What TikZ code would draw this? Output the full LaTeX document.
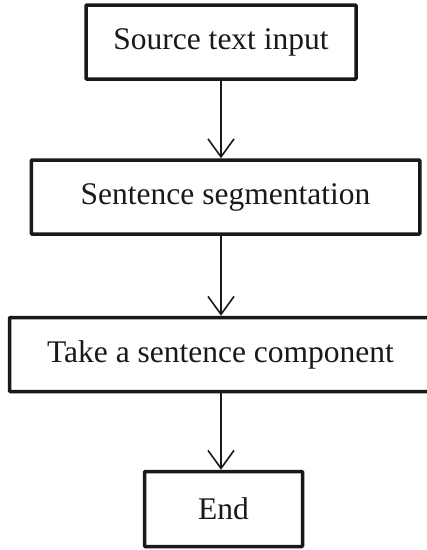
\documentclass[tikz,border=0pt]{standalone}
\usepackage{fontspec}
\setmainfont{Liberation Serif}
\usetikzlibrary{arrows.meta}
\tikzset{
  flowbox/.style={draw=black!90, line width=3.5pt, rectangle, rounded corners=0.8pt, inner sep=0pt,
    minimum height=74pt, font=\fontsize{31.5}{36}\selectfont, text=black!90},
  flowarrow/.style={draw=black!90, line width=1.6pt,
    -{Straight Barb[length=18pt,width=26pt,line width=1.6pt]}}
}
\begin{document}
\begin{tikzpicture}[x=1pt,y=-1pt]
\clip (0,0) rectangle (427,550);
\fill[white] (0,0) rectangle (427,550);
\node[flowbox, minimum width=270pt] (b1) at (221,42) {Source text input};
\node[flowbox, minimum width=388.5pt] (b2) at (225.5,197) {Sentence segmentation};
\node[flowbox, minimum width=422pt] (b3) at (220.5,354.5) {Take a sentence component};
\node[flowbox, minimum width=158pt, minimum height=75pt] (b4) at (223.5,509) {End};
\draw[flowarrow] (b1.south) -- (b1.south |- b2.north);
\draw[flowarrow] (b2.south -| b1.south) -- (b3.north -| b1.south);
\draw[flowarrow] (b3.south -| b1.south) -- (b4.north -| b1.south);
\end{tikzpicture}
\end{document}
